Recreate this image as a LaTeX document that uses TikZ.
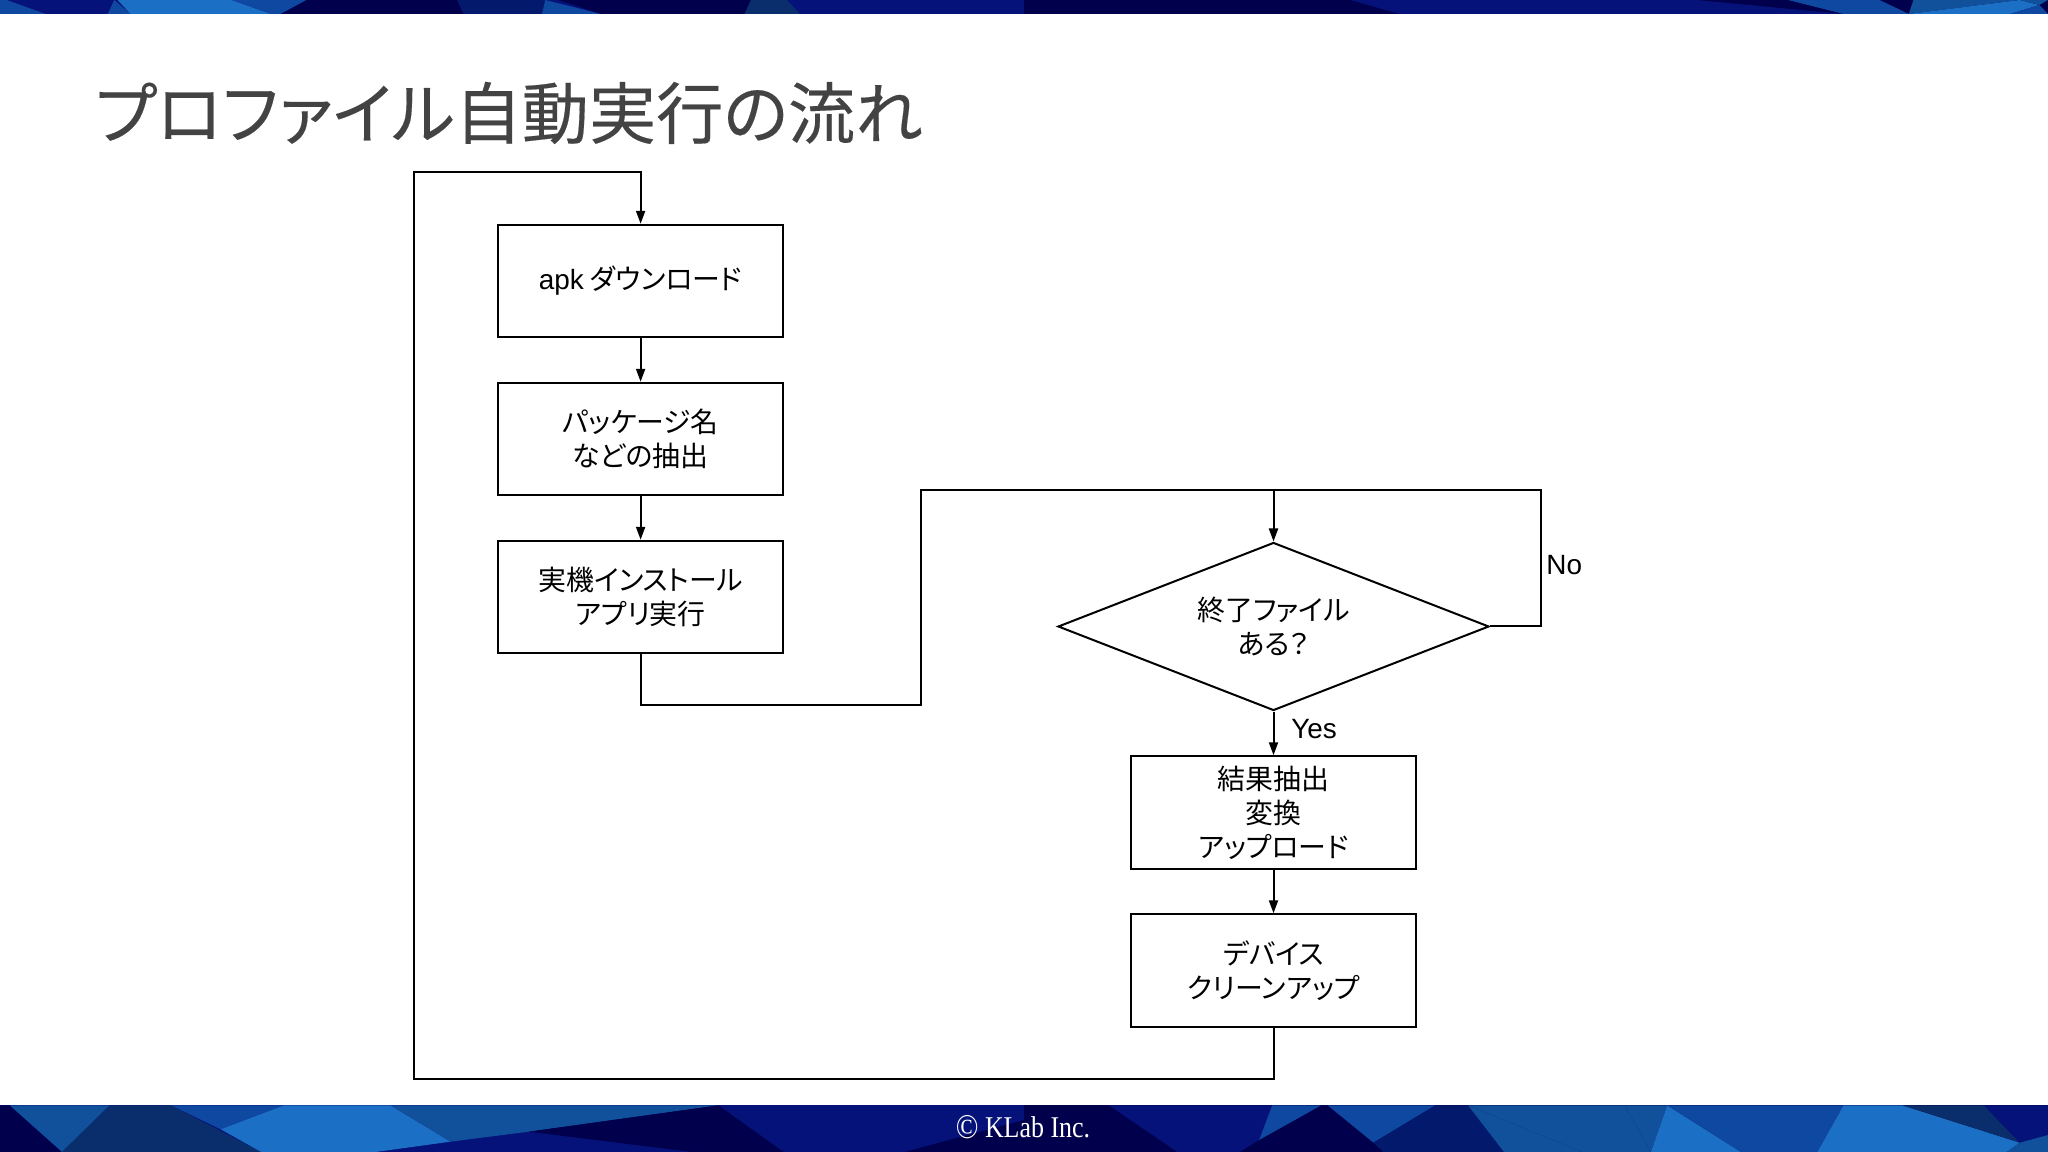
\documentclass[tikz,border=0pt]{standalone}
\usepackage{fontspec}
\setmainfont{Liberation Sans}
\newfontfamily\jp[RawFeature=+palt]{Noto Sans CJK JP}
\newfontfamily\jpheavy[RawFeature=+palt,FakeBold=0.25]{Noto Sans CJK JP}
\newfontfamily\serifl{Liberation Serif}
\usetikzlibrary{shapes.geometric,arrows.meta}
\definecolor{cInk}{HTML}{00004C}
\definecolor{cNavy}{HTML}{05127A}
\definecolor{cDeep}{HTML}{0A2E6B}
\definecolor{cMid}{HTML}{0F48A0}
\definecolor{cTeal}{HTML}{11509A}
\definecolor{cBright}{HTML}{1B70C6}
\definecolor{cDark}{HTML}{03196B}
\definecolor{cTitle}{HTML}{434343}
\tikzset{
  flowbox/.style={draw=black,line width=1bp,rectangle,minimum width=142.8bp,minimum height=56.2bp,inner sep=0pt,align=center,font=\fontsize{14}{17}\selectfont\jp},
  decision/.style={draw=black,line width=1bp,diamond,aspect=2.56,minimum width=215.5bp,minimum height=84bp,inner sep=0pt,align=center,font=\fontsize{14}{17}\selectfont\jp},
  link/.style={draw=black,line width=1bp},
  flow/.style={link,-{Triangle[length=6.5bp,width=4.5bp]}},
  caption/.style={font=\fontsize{14}{17}\selectfont,inner sep=0pt},
  footzoom/.style={xscale=0.653,yscale=0.3333}
}
\begin{document}
\begin{tikzpicture}[x=0.5bp,y=-0.5bp]
\path[use as bounding box,fill=white] (0,0) rectangle (2048,1152);
% top band, left half
\begin{scope}[shift={(0,0)},footzoom]
\fill[cNavy] (0,0) rectangle (1568,42);
\fill[cMid] (0,0) -- (10,0) -- (70,42) -- (0,42) -- cycle;
\fill[cMid] (165,42) -- (175,0) -- (200,42) -- cycle;
\fill[cBright] (180,0) -- (355,0) -- (415,42) -- (200,42) -- cycle;
\fill[cMid] (355,0) -- (470,0) -- (430,42) -- (415,42) -- cycle;
\fill[cInk] (470,0) -- (700,0) -- (710,42) -- (430,42) -- cycle;
\fill[cDark] (700,0) -- (840,0) -- (830,42) -- (710,42) -- cycle;
\fill[cMid] (830,42) -- (835,0) -- (920,42) -- cycle;
\fill[cInk] (855,0) -- (1150,0) -- (1140,42) -- (920,42) -- cycle;
\fill[cDeep] (1150,0) -- (1205,0) -- (1225,42) -- (1140,42) -- cycle;
\end{scope}
% top band, right half
\begin{scope}[shift={(1024,0)},footzoom]
\fill[cInk] (0,0) rectangle (1568,42);
\fill[cNavy] (500,0) -- (1030,0) -- (1255,42) -- (575,42) -- cycle;
\fill[cMid] (1170,0) -- (1310,0) -- (1355,42) -- (1255,42) -- cycle;
\fill[cTeal] (1362,0) -- (1525,0) -- (1355,42) -- cycle;
\fill[cBright] (1355,42) -- (1510,42) -- (1555,15) -- (1525,0) -- cycle;
\fill[cTeal] (1555,15) -- (1568,0) -- (1525,0) -- cycle;
\fill[cMid] (1555,15) -- (1568,42) -- (1510,42) -- cycle;
\end{scope}
% bottom band, left half
\begin{scope}[shift={(0,1090)},footzoom]
\fill[cNavy] (0,46) rectangle (1568,186);
\fill[cInk] (0,46) -- (15,46) -- (95,186) -- (0,186) -- cycle;
\fill[cTeal] (15,46) -- (168,46) -- (95,186) -- cycle;
\fill[cDeep] (168,46) -- (262,46) -- (400,186) -- (95,186) -- cycle;
\fill[cMid] (262,46) -- (435,46) -- (338,118) -- cycle;
\fill[cBright] (435,46) -- (598,46) -- (690,155) -- (575,186) -- (400,186) -- (338,118) -- cycle;
\fill[cTeal] (598,46) -- (1100,46) -- (810,125) -- (690,155) -- cycle;
\fill[cInk] (810,125) -- (1100,46) -- (1200,186) -- (1060,186) -- cycle;
\fill[cInk] (1568,90) -- (1568,186) -- (1385,186) -- cycle;
\end{scope}
% bottom band, right half
\begin{scope}[shift={(1024,1090)},footzoom]
\fill[cInk] (0,46) rectangle (1568,186);
\fill[cNavy] (130,46) -- (380,46) -- (360,150) -- (330,186) -- (235,186) -- cycle;
\fill[cMid] (380,46) -- (455,46) -- (360,150) -- cycle;
\fill[cMid] (465,46) -- (630,46) -- (535,158) -- cycle;
\fill[cDark] (630,46) -- (680,46) -- (735,186) -- (550,186) -- (535,158) -- cycle;
\fill[cTeal] (680,46) -- (735,186) -- (855,186) -- cycle;
\fill[cTeal] (680,46) -- (920,46) -- (960,186) -- (855,186) -- cycle;
\fill[cTeal] (920,46) -- (985,46) -- (960,186) -- cycle;
\fill[cBright] (985,46) -- (1098,186) -- (960,186) -- cycle;
\fill[cMid] (985,46) -- (1255,46) -- (1215,186) -- (1098,186) -- cycle;
\fill[cBright] (1255,46) -- (1345,46) -- (1525,158) -- (1505,186) -- (1215,186) -- cycle;
\fill[cDeep] (1345,46) -- (1470,46) -- (1525,158) -- cycle;
\fill[cNavy] (1470,46) -- (1568,46) -- (1568,135) -- (1525,158) -- cycle;
\fill[cTeal] (1525,158) -- (1568,135) -- (1568,186) -- (1505,186) -- cycle;
\end{scope}
% title and footer text
\node[anchor=west,inner sep=0pt,text=cTitle,font=\fontsize{33.7}{38}\selectfont\jpheavy] (title) at (94.5,113) {プロファイル自動実行の流れ};
\node[text=white,inner sep=0pt,font=\fontsize{14}{16}\selectfont\serifl] (foot) at (1023,1127.5) {\scalebox{0.93}[1.08]{\raisebox{-0.6pt}{\scalebox{1.15}{©}} KLab Inc.}};
% flow boxes
\node[flowbox] (a) at (640.6,281) {{\fontspec{Liberation Sans}apk} ダウンロード};
\node[flowbox] (b) at (640.6,439) {パッケージ名\\などの抽出};
\node[flowbox] (c) at (640.6,597) {実機インストール\\アプリ実行};
\node[decision] (d) at (1273.5,626.5) {終了ファイル\\ある？};
\node[flowbox] (e) at (1273.5,812.5) {結果抽出\\変換\\アップロード};
\node[flowbox] (f) at (1273.5,970.5) {デバイス\\クリーンアップ};
% labels
\node[caption,anchor=west] (no) at (1546,565.5) {No};
\node[caption] (yes) at (1314,729.5) {Yes};
% routing points
\coordinate (loopbl) at (414,1079);
\coordinate (looptl) at (414,172.4);
\coordinate (rb) at (920.8,705.3);
\coordinate (rt) at (920.8,490.5);
\coordinate (nob) at (1540.5,626.5);
\coordinate (not) at (1540.5,490.5);
% connectors
\draw[flow] (a) -- (b);
\draw[flow] (b) -- (c);
\draw[flow] (c.south) |- (rb) -- (rt) -| (d.north);
\draw[link] (d.east) -- (nob) -- (not) -- (rt);
\draw[flow] (d.south) -- (e.north);
\draw[flow] (e) -- (f);
\draw[flow] (f.south) |- (loopbl) -- (looptl) -| (a.north);
\end{tikzpicture}
\end{document}
